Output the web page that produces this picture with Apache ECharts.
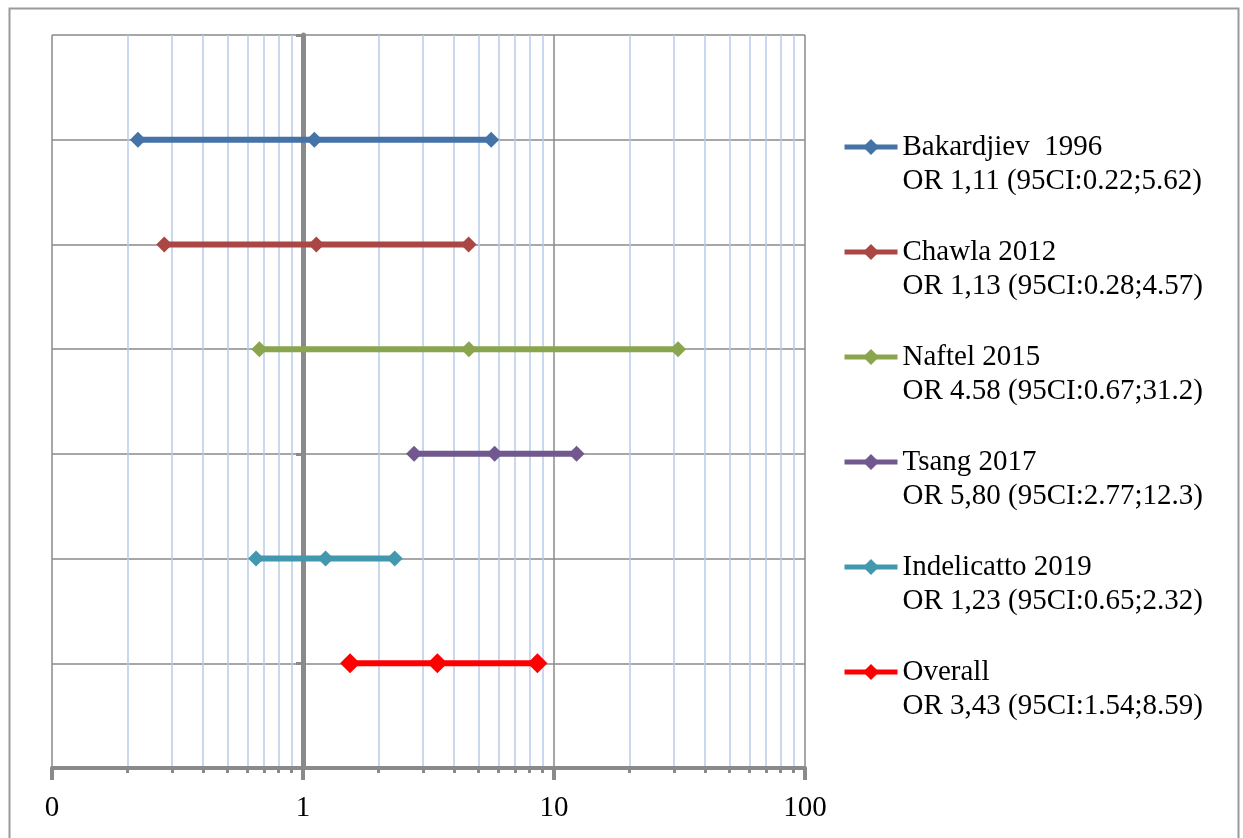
<!DOCTYPE html>
<html>
<head>
<meta charset="utf-8">
<script src="https://cdn.jsdelivr.net/npm/echarts@6/dist/echarts.min.js"></script>
<style>
html,body{margin:0;padding:0;background:#fff;}
#chart{width:1243px;height:838px;}
</style>
</head>
<body>
<div id="chart"></div>
<script>
// ---- data ----
var studies = ['Bakardjiev  1996', 'Chawla 2012', 'Naftel 2015', 'Tsang 2017', 'Indelicatto 2019', 'Overall'];
var orLabels = ['OR 1,11 (95CI:0.22;5.62)', 'OR 1,13 (95CI:0.28;4.57)', 'OR 4.58 (95CI:0.67;31.2)',
                'OR 5,80 (95CI:2.77;12.3)', 'OR 1,23 (95CI:0.65;2.32)', 'OR 3,43 (95CI:1.54;8.59)'];
var lowCI  = [0.22, 0.28, 0.67, 2.77, 0.65, 1.54];
var oddsR  = [1.11, 1.13, 4.58, 5.80, 1.23, 3.43];
var highCI = [5.62, 4.57, 31.2, 12.3, 2.32, 8.59];
var rowPos = [6, 5, 4, 3, 2, 1];
var xTickLabels = {0.1: '0', 1: '1', 10: '10', 100: '100'};

// ---- styles ----
var colors = ['#4572A7', '#AA4643', '#89A54E', '#71588F', '#4198AF', '#FF0000'];
var symSizes = [16, 16, 16, 16, 16, 20];
var FONT = 'Liberation Serif, Times New Roman, serif';
var GRAY = '#8a8a8a';

var series = studies.map(function (name, i) {
  return {
    name: name,
    type: 'line',
    data: [[lowCI[i], rowPos[i]], [oddsR[i], rowPos[i]], [highCI[i], rowPos[i]]],
    symbol: 'diamond',
    symbolSize: symSizes[i],
    lineStyle: {color: colors[i], width: 6},
    itemStyle: {color: colors[i]},
    emphasis: {disabled: true},
    animation: false
  };
});

var chart = echarts.init(document.getElementById('chart'), null, {renderer: 'canvas'});
chart.setOption({
  backgroundColor: '#fff',
  animation: false,
  graphic: [{
    type: 'rect', left: 7, top: 6, shape: {width: 1229, height: 850},
    style: {fill: 'none', stroke: '#9a9a9a', lineWidth: 2}, silent: true, z: -10
  }],
  grid: {left: 52, right: 438, top: 35, bottom: 70, containLabel: false},
  xAxis: {
    type: 'log', logBase: 10, min: 0.1, max: 100,
    axisLine: {show: true, lineStyle: {color: GRAY, width: 4}},
    axisTick: {show: true, length: 12, lineStyle: {color: GRAY, width: 4}},
    minorTick: {show: true, splitNumber: 9, length: 5, lineStyle: {color: GRAY, width: 3}},
    splitLine: {show: true, lineStyle: {color: GRAY, width: 1.5}},
    minorSplitLine: {show: true, lineStyle: {color: '#b8cbe9', width: 1.5}},
    axisLabel: {
      margin: 26, color: '#000', fontFamily: FONT, fontSize: 29,
      formatter: function (v) { return xTickLabels[v] !== undefined ? xTickLabels[v] : ''; }
    }
  },
  yAxis: {
    type: 'value', min: 0, max: 7, interval: 1, offset: -251,
    axisLine: {show: true, lineStyle: {color: GRAY, width: 5}},
    axisTick: {show: true, length: 7, lineStyle: {color: GRAY, width: 3}},
    axisLabel: {show: false},
    splitLine: {show: true, lineStyle: {color: GRAY, width: 1.5}}
  },
  legend: {
    orient: 'vertical', left: 842, top: 96, padding: 0,
    itemWidth: 53, itemHeight: 20, itemGap: 3,
    data: studies,
    lineStyle: {width: 5},
    formatter: function (name) { return '\n' + name + '\n' + orLabels[studies.indexOf(name)]; },
    textStyle: {color: '#000', fontFamily: FONT, fontSize: 29, lineHeight: 34},
    selectedMode: false
  },
  series: series
});
</script>
</body>
</html>
